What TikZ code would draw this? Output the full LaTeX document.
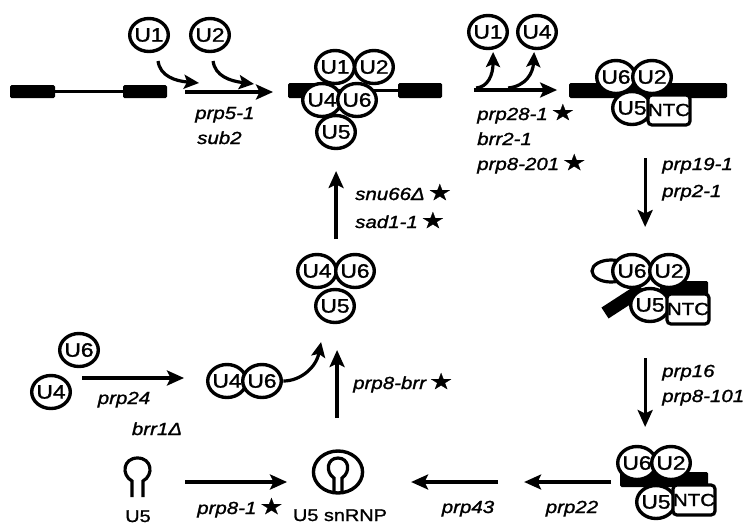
\documentclass[tikz,border=0pt]{standalone}
\usepackage{fontspec}
\setmainfont{Liberation Sans}[FakeBold=1.2]
\newfontfamily\symfont{DejaVu Sans}[FakeBold=1]
\usetikzlibrary{arrows.meta}
\newcommand{\mutstar}{\hspace{3pt}{\symfont\upshape\fontsize{22}{22}\selectfont ★}}

\begin{document}
\begin{tikzpicture}[x=0.854701pt, y=-1pt, xscale=1.17, transform shape,
  snrna/.style={circle, draw, line width=3.4pt, fill=white, minimum size=33pt,
    inner sep=0pt, font=\fontsize{19.5}{19.5}\selectfont},
  ntcbox/.style={rectangle, rounded corners=4pt, draw, line width=3.2pt, fill=white,
    minimum width=32.5pt, minimum height=30pt, inner sep=0pt,
    font=\fontsize{17.5}{17.5}\selectfont},
  exon/.style={fill=black, rounded corners=1.5pt},
  intron/.style={line width=2.8pt},
  stepline/.style={line width=3.2pt, -{Stealth[length=17pt,width=15pt,inset=3.5pt]}},
  curvearrow/.style={line width=3.2pt, -{Stealth[length=15pt,width=14pt,inset=3pt]}},
  lab/.style={font=\fontsize{17.5}{20}\selectfont\itshape, inner sep=0pt},
  caption/.style={font=\fontsize{17}{20}\selectfont, inner sep=0pt},
  hairpin/.style={line width=3.2pt},
]
\useasboundingbox (0,0) rectangle (745,528);

% ---------- pre-mRNA and U1/U2 addition ----------
\fill[exon] (10,85) rectangle (55,98);
\draw[intron] (55,91.5) -- (123,91.5);
\fill[exon] (123,85) rectangle (167,98);

\node[snrna] (u1in) at (149,35) {U1};
\node[snrna] (u2in) at (210,35) {U2};
\coordinate (a1s) at (185,92);
\coordinate (a1e) at (273,92);
\draw[stepline] (a1s) -- (a1e);
\coordinate (u1out) at (158,61);
\coordinate (u1land) at (199,83);
\coordinate (u2out) at (213,61);
\coordinate (u2land) at (254,84);
\draw[curvearrow] (u1out) .. controls (160,76) and (175,81) .. (u1land);
\draw[curvearrow] (u2out) .. controls (215,76) and (230,81) .. (u2land);
\node[lab, anchor=base west] (l1a) at (195,119) {prp5-1};
\node[lab, anchor=base west] (l1b) at (197,144) {sub2};

% ---------- complex with all five snRNPs ----------
\fill[exon] (288,83) rectangle (320,98);
\draw[intron] (320,90.5) -- (398,90.5);
\fill[exon] (398,83) rectangle (442,98);
\node[snrna] (bU1) at (335,67) {U1};
\node[snrna] (bU2) at (374,67) {U2};
\node[snrna] (bU4) at (322,100) {U4};
\node[snrna] (bU6) at (357,100) {U6};
\node[snrna] (bU5) at (336,132) {U5};

% ---------- release of U1 and U4 ----------
\node[snrna] (u1rel) at (488,32) {U1};
\node[snrna] (u4rel) at (537,32) {U4};
\coordinate (a2s) at (474,90);
\coordinate (a2e) at (557,90);
\draw[stepline] (a2s) -- (a2e);
\coordinate (r1s) at (476,88);
\coordinate (r1e) at (493,52);
\coordinate (r2s) at (508,88);
\coordinate (r2e) at (534,52);
\draw[curvearrow] (r1s) .. controls (488,87) and (493,75) .. (r1e);
\draw[curvearrow] (r2s) .. controls (526,86) and (533,73) .. (r2e);
\node[lab, anchor=base west] (l2a) at (477,120) {prp28-1\mutstar};
\node[lab, anchor=base west] (l2b) at (477,145) {brr2-1};
\node[lab, anchor=base west] (l2c) at (477,170) {prp8-201\mutstar};

% ---------- activated complex ----------
\fill[exon] (569,83) rectangle (727,98);
\node[snrna] (cU6) at (616,77) {U6};
\node[snrna] (cU2) at (652,77) {U2};
\node[snrna] (cU5) at (632,108) {U5};
\node[ntcbox] (cNTC) at (669,110) {NTC};

\coordinate (a3s) at (645,158);
\coordinate (a3e) at (645,227);
\draw[stepline] (a3s) -- (a3e);
\node[lab, anchor=base west] (l3a) at (662,170) {prp19-1};
\node[lab, anchor=base west] (l3b) at (662,197) {prp2-1};

% ---------- first-step complex with lariat ----------
\draw[hairpin] (611,271) ellipse [x radius=19, y radius=11];
\draw[line width=13pt] (605,313) -- (642,289);
\fill[exon] (660,281) rectangle (708,297);
\node[snrna] (dU6) at (632,271) {U6};
\node[snrna] (dU2) at (669,271) {U2};
\node[snrna] (dU5) at (650,305) {U5};
\node[ntcbox] (dNTC) at (688,309) {NTC};

\coordinate (a4s) at (645,358);
\coordinate (a4e) at (645,427);
\draw[stepline] (a4s) -- (a4e);
\node[lab, anchor=base west] (l4a) at (662,377) {prp16};
\node[lab, anchor=base west] (l4b) at (662,402) {prp8-101};

% ---------- post-splicing complex ----------
\fill[exon] (620,472) rectangle (708,487);
\node[snrna] (eU6) at (637,463) {U6};
\node[snrna] (eU2) at (671,463) {U2};
\node[snrna] (eU5) at (656,502) {U5};
\node[ntcbox] (eNTC) at (694,500) {NTC};

\coordinate (a5s) at (611,482);
\coordinate (a5e) at (524,482);
\draw[stepline] (a5s) -- (a5e);
\node[lab, anchor=base] (l5) at (572,513) {prp22};

\coordinate (a6s) at (498,482);
\coordinate (a6e) at (411,482);
\draw[stepline] (a6s) -- (a6e);
\node[lab, anchor=base] (l6) at (468,513) {prp43};

% ---------- U5 snRNP ----------
\node[circle, draw, line width=3.4pt, minimum size=42pt, inner sep=0pt] (snrnp) at (338,472) {};
\draw[hairpin] (334,493) -- (334,478) .. controls (325,472) and (327,458) .. (338,458)
  .. controls (349,458) and (351,472) .. (342,478) -- (342,493);
\node[caption, anchor=base] (snrnplab) at (340,521) {U5 snRNP};

% ---------- free U5 snRNA ----------
\draw[hairpin] (132,497) -- (132,481) .. controls (121,475) and (123,458) .. (137.5,458)
  .. controls (152,458) and (154,475) .. (143,481) -- (143,497);
\node[caption, anchor=base] (u5lab) at (138,522) {U5};

\coordinate (a7s) at (185,482);
\coordinate (a7e) at (287,482);
\draw[stepline] (a7s) -- (a7e);
\node[lab, anchor=base west] (l7) at (197,514) {prp8-1\mutstar};

% ---------- U4/U6 annealing ----------
\node[snrna] (u6free) at (79,350) {U6};
\node[snrna] (u4free) at (51,392) {U4};
\coordinate (a8s) at (82,378);
\coordinate (a8e) at (184,378);
\draw[stepline] (a8s) -- (a8e);
\node[lab, anchor=base] (l8a) at (124,404) {prp24};
\node[lab, anchor=base] (l8b) at (157,435) {brr1Δ};

\node[snrna] (pU4) at (227,381) {U4};
\node[snrna] (pU6) at (262,381) {U6};

% ---------- tri-snRNP ----------
\node[snrna] (tU4) at (317,271) {U4};
\node[snrna] (tU6) at (355,271) {U6};
\node[snrna] (tU5) at (335,306) {U5};

\coordinate (pairtip) at (321,342);
\draw[curvearrow] (pU6.east) .. controls (300,381) and (316,368) .. (pairtip);

\coordinate (a9s) at (337,418);
\coordinate (a9e) at (337,350);
\draw[stepline] (a9s) -- (a9e);
\node[lab, anchor=base west] (l9) at (353,389) {prp8-brr\mutstar};

\coordinate (a10s) at (336,239);
\coordinate (a10e) at (336,171);
\draw[stepline] (a10s) -- (a10e);
\node[lab, anchor=base west] (l10a) at (355,200) {snu66Δ\mutstar};
\node[lab, anchor=base west] (l10b) at (355,228) {sad1-1\mutstar};

\end{tikzpicture}
\end{document}
